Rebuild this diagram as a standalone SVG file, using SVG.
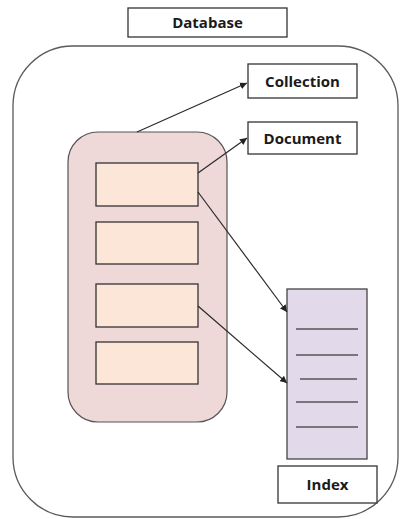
<svg xmlns="http://www.w3.org/2000/svg" width="403" height="519" viewBox="0 0 403 519">
  <defs>
    <marker id="arrow" viewBox="0 0 10 10" refX="10" refY="5" markerWidth="7" markerHeight="7" orient="auto" markerUnits="userSpaceOnUse">
      <path d="M0,0 L10,5 L0,10 z" fill="#222"/>
    </marker>
  </defs>
  <style>
    .label { fill: #fff; stroke: #333; stroke-width: 1.3; }
    .txt { font-family: "Open Sans", "Liberation Sans", sans-serif; font-weight: bold; font-size: 15px; fill: #1a1a1a; text-anchor: middle; }
    .slot { fill: #fbe6d8; stroke: #333; stroke-width: 1.3; }
    .conn { stroke: #2a2a2a; stroke-width: 1.2; fill: none; marker-end: url(#arrow); }
    .row { stroke: #555; stroke-width: 1.5; }
  </style>
  <rect width="403" height="519" fill="#fff"/>

  <!-- database boundary -->
  <g id="database">
    <rect x="13" y="46" width="385" height="471" rx="60" ry="60" fill="#fff" stroke="#5a5a5a" stroke-width="1.3"/>
    <rect class="label" x="128" y="8" width="159" height="29"/>
    <text class="txt" x="207.5" y="28">Database</text>
  </g>

  <!-- collection holding documents -->
  <g id="collection-body">
    <rect x="68" y="132" width="159" height="290" rx="30" ry="30" fill="#eed8d8" stroke="#555" stroke-width="1.2"/>
    <rect class="slot" x="96" y="163" width="102" height="43"/>
    <rect class="slot" x="96" y="222" width="102" height="42"/>
    <rect class="slot" x="96" y="284" width="102" height="43"/>
    <rect class="slot" x="96" y="342" width="102" height="42"/>
  </g>

  <g id="collection">
    <rect class="label" x="248" y="64" width="109" height="34"/>
    <text class="txt" x="302.5" y="86.5">Collection</text>
  </g>

  <g id="document">
    <rect class="label" x="248" y="122" width="109" height="32"/>
    <text class="txt" x="302.5" y="143.5">Document</text>
  </g>

  <!-- index stack -->
  <g id="index">
    <rect x="287" y="289" width="80" height="170" fill="#e2d9ea" stroke="#444" stroke-width="1.3"/>
    <line class="row" x1="296" y1="329" x2="358" y2="329"/>
    <line class="row" x1="296" y1="355" x2="358" y2="355"/>
    <line class="row" x1="300" y1="379" x2="357" y2="379"/>
    <line class="row" x1="296" y1="402" x2="358" y2="402"/>
    <line class="row" x1="296" y1="427" x2="358" y2="427"/>
    <rect class="label" x="278" y="466" width="99" height="37"/>
    <text class="txt" x="327.5" y="490">Index</text>
  </g>

  <g id="connectors">
    <line class="conn" x1="137" y1="132" x2="247" y2="83"/>
    <line class="conn" x1="198" y1="173" x2="247" y2="138"/>
    <line class="conn" x1="198" y1="192" x2="287" y2="312"/>
    <line class="conn" x1="198" y1="306" x2="287" y2="383"/>
  </g>
</svg>
